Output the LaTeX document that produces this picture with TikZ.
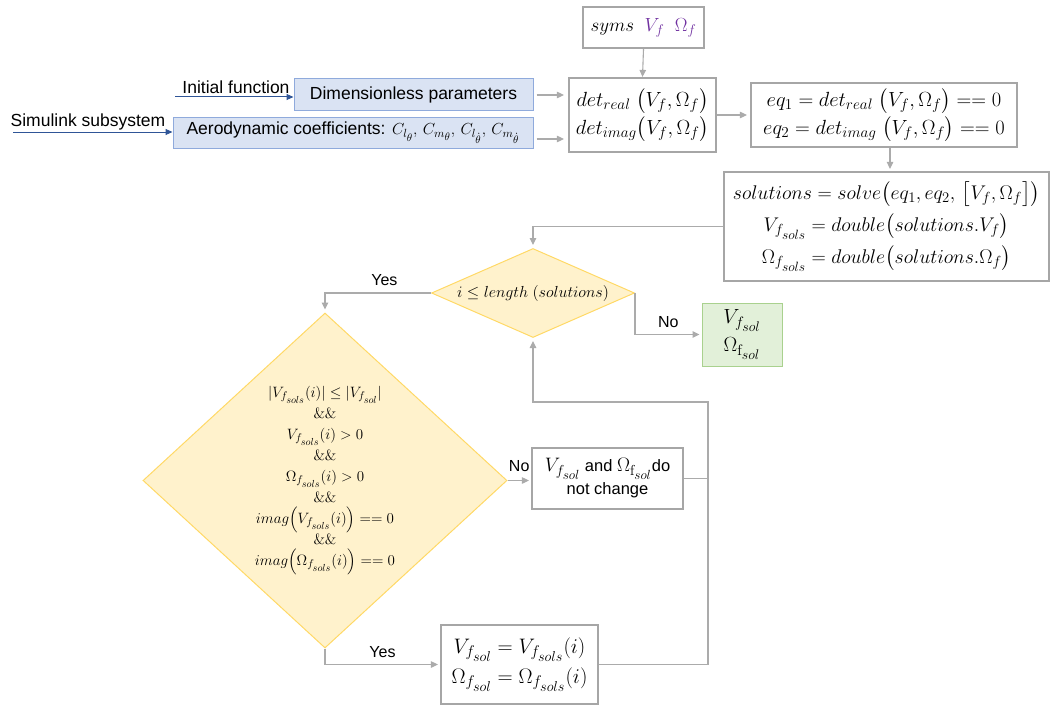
\RequirePackage{fix-cm}
\documentclass[tikz,border=0pt]{standalone}
\usepackage{amsmath}
\usepackage[no-math]{fontspec}
\setmainfont{Liberation Sans}
\usetikzlibrary{arrows.meta,shapes.geometric}
% larger sub- and sub-subscripts, as in the formula editor output
\def\defaultscriptratio{.74}
\def\defaultscriptscriptratio{.68}

\definecolor{boxgray}{HTML}{A6A6A6}
\definecolor{linkgray}{HTML}{ABABAB}
\definecolor{bluefill}{HTML}{DAE3F3}
\definecolor{blueedge}{HTML}{8FAADC}
\definecolor{bluearrow}{HTML}{2F5597}
\definecolor{yellfill}{HTML}{FFF2CC}
\definecolor{yelledge}{HTML}{FFD966}
\definecolor{greenfill}{HTML}{E2F0D9}
\definecolor{greenedge}{HTML}{A9D18E}
\definecolor{symcol}{HTML}{7030A0}

\begin{document}
\begin{tikzpicture}[x=1pt,y=-1pt,
  graybox/.style={draw=boxgray, line width=2.2pt, fill=white, inner sep=0pt, align=center,
    font=\fontsize{20.5}{28}\selectfont},
  bluebox/.style={draw=blueedge, fill=bluefill, line width=1pt, inner sep=0pt,
    font=\fontsize{17.5}{20}\selectfont},
  decision/.style={diamond, draw=yelledge, fill=yellfill, line width=1pt, inner sep=0pt, align=center},
  resultbox/.style={draw=greenedge, fill=greenfill, line width=1pt, inner sep=0pt, align=center,
    font=\fontsize{20.5}{28}\selectfont},
  link/.style={draw=linkgray, line width=1.1pt, -{Triangle[length=7pt,width=6.5pt]}},
  plainlink/.style={draw=linkgray, line width=1.1pt},
  inlink/.style={draw=bluearrow, line width=1pt, -{Triangle[length=7pt,width=6pt]}},
  lbl/.style={font=\fontsize{16}{18}\selectfont, inner sep=0pt},
  inlbl/.style={font=\fontsize{17.5}{20}\selectfont, inner sep=0pt},
]
\useasboundingbox (0,0) rectangle (1051,706);

% ---- top row: inputs and symbolic set-up ----
\node[graybox, minimum width=121pt, minimum height=41pt, font=\fontsize{19}{24}\selectfont] (syms) at (643.5,27.5)
  {$syms\ \ {\color{symcol}V_f\ \ \Omega_f}$};
\node[graybox, minimum width=147pt, minimum height=74pt] (det) at (642.5,115)
  {$det_{real}\ \bigl(V_f,\Omega_f\bigr)$\\ $det_{imag}\bigl(V_f,\Omega_f\bigr)$};
\node[graybox, minimum width=266pt, minimum height=64pt] (eq) at (884,115)
  {$eq_1 = det_{real}\ \bigl(V_f,\Omega_f\bigr) == 0$\\ $eq_2 = det_{imag}\ \bigl(V_f,\Omega_f\bigr) == 0$};
\node[graybox, minimum width=325pt, minimum height=109pt, font=\fontsize{19.8}{32}\selectfont] (sol) at (886.5,226.5)
  {$solutions = solve\bigl(eq_1, eq_2,\,\bigl[V_f,\Omega_f\bigr]\bigr)$\\
   $V_{f_{sols}} = double\bigl(solutions.V_f\bigr)$\\
   $\Omega_{f_{sols}} = double\bigl(solutions.\Omega_f\bigr)$};

\node[bluebox, minimum width=239pt, minimum height=32pt] (dim) at (413.5,95) {Dimensionless parameters};
\node[bluebox, minimum width=360pt, minimum height=30pt] (aero) at (353,133)
  {Aerodynamic coefficients: {\fontsize{16}{18}\selectfont$C_{l_\theta},\,C_{m_\theta},\,C_{l_{\dot\theta}},\,C_{m_{\dot\theta}}$}};

\node[inlbl] (initxt) at (236,87) {Initial function};
\node[inlbl] (simtxt) at (88,122) {Simulink subsystem};
\coordinate (inistart) at (175,97);
\coordinate (simstart) at (13,132);

% ---- loop over the solutions ----
\node[decision, shape aspect=2.28, minimum width=203pt, minimum height=89pt,
  font=\fontsize{16}{18}\selectfont] (loop) at (533,293)
  {$i \le length\ (solutions)$};
\node[resultbox, minimum width=80pt, minimum height=63pt] (result) at (742,334.5)
  {$V_{f_{sol}}$\\ $\Omega_{\mathrm{f}_{sol}}$};

\node[decision, shape aspect=1.09, minimum width=364pt, minimum height=335pt,
  font=\fontsize{15}{21}\selectfont] (check) at (325,480.5)
  {$|V_{f_{sols}}(i)| \le |V_{f_{sol}}|$\\ $\&\&$\\ $V_{f_{sols}}(i) > 0$\\ $\&\&$\\
   $\Omega_{f_{sols}}(i) > 0$\\ $\&\&$\\ $imag\Bigl(V_{f_{sols}}(i)\Bigr) == 0$\\ $\&\&$\\
   $imag\Bigl(\Omega_{f_{sols}}(i)\Bigr) == 0$};

\node[graybox, minimum width=151pt, minimum height=61pt, font=\fontsize{16.5}{23}\selectfont] (keep) at (607.5,478.5)
  {{\fontsize{19.5}{22}\selectfont$V_{f_{sol}}$} and {\fontsize{19.5}{22}\selectfont$\Omega_{\mathrm{f}_{sol}}$}do\\ not change};
\node[graybox, minimum width=157pt, minimum height=79pt, font=\fontsize{21}{30}\selectfont] (update) at (519.5,664.5)
  {$V_{f_{sol}} = V_{f_{sols}}(i)$\\ $\Omega_{f_{sol}} = \Omega_{f_{sols}}(i)$};

\coordinate (backup) at (708,402);

% ---- connectors ----
\draw[inlink] (inistart) -- (inistart -| dim.west);
\draw[inlink] (simstart) -- (simstart -| aero.west);
\draw[link, shorten <=3pt, shorten >=4pt] (dim.east) -- (dim.east -| det.west);
\draw[link, shorten <=3pt, shorten >=4pt] ([yshift=-6pt]aero.east) -- ([yshift=-6pt]aero.east -| det.west);
\draw[link] (syms.south) -- (det.north);
\draw[link, shorten >=3pt] (det.east) -- (eq.west);
\draw[link, shorten >=2pt] ([xshift=6pt]eq.south) -- ([xshift=6pt]eq.south |- sol.north);
\draw[link, shorten >=3pt] (sol.west) -| (loop.north);
\draw[link, shorten >=3pt] (loop.west) -| (check.north) node[lbl, pos=0.22, above=7pt] {Yes};
\draw[link, shorten >=2pt] (loop.east) |- (result.west) node[lbl, pos=0.75, above=6pt] {No};
\draw[link, shorten >=2pt] (check.east) -- (check.east -| keep.west) node[lbl, midway, above=8pt] {No};
\draw[link, shorten >=2pt] (check.south) |- (update.west) node[lbl, pos=0.75, above=6pt] {Yes};
\draw[link, shorten >=3pt] (update.east) -| (backup) -| (loop.south);
\draw[plainlink] (keep.east) -- (keep.east -| backup);
\end{tikzpicture}
\end{document}
